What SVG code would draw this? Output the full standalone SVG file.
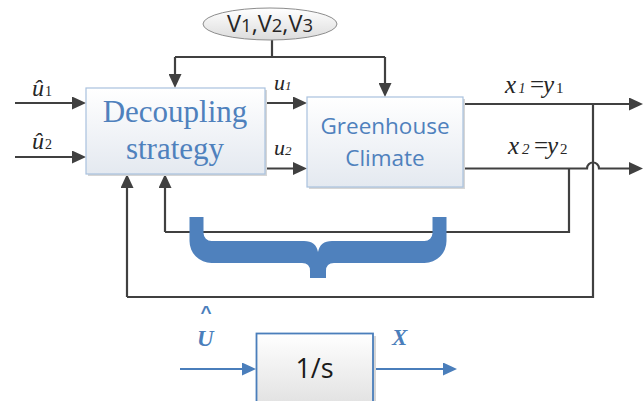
<svg xmlns="http://www.w3.org/2000/svg" width="643" height="401" viewBox="0 0 643 401">
  <defs>
    <linearGradient id="boxFill" x1="0" y1="0" x2="0" y2="1">
      <stop offset="0" stop-color="#ffffff"/>
      <stop offset="1" stop-color="#e4e9f0"/>
    </linearGradient>
    <linearGradient id="ellFill" x1="0" y1="0" x2="0" y2="1">
      <stop offset="0" stop-color="#ffffff"/>
      <stop offset="1" stop-color="#dcdcdc"/>
    </linearGradient>
    <linearGradient id="intFill" x1="0" y1="0" x2="0" y2="1">
      <stop offset="0" stop-color="#ffffff"/>
      <stop offset="1" stop-color="#e2e2e2"/>
    </linearGradient>
    <marker id="arrDark" markerUnits="userSpaceOnUse" markerWidth="14" markerHeight="13" refX="10" refY="6.5" orient="auto">
      <path d="M0,0 L14,6.5 L0,13 z" fill="#404040"/>
    </marker>
    <marker id="arrBlue" markerUnits="userSpaceOnUse" markerWidth="14" markerHeight="13" refX="10" refY="6.5" orient="auto">
      <path d="M0,0 L14,6.5 L0,13 z" fill="#4a7ebb"/>
    </marker>
  </defs>
  <style>
    .wire { fill: none; stroke: #404040; stroke-width: 2.2; }
    .wireA { fill: none; stroke: #404040; stroke-width: 2.2; marker-end: url(#arrDark); }
    .blueA { fill: none; stroke: #4a7ebb; stroke-width: 2; marker-end: url(#arrBlue); }
    .box { fill: url(#boxFill); stroke: #a9c1de; stroke-width: 1.2; }
    .shadow { fill: #d6d6d6; }
    .serifBlue { font-family: "Liberation Serif", "Times New Roman", serif; fill: #4f81bd; }
    .sansBlue { font-family: "Open Sans", "Liberation Sans", sans-serif; fill: #4f81bd; }
    .math { font-family: "Liberation Serif", "Times New Roman", serif; fill: #262626; }
    .it { font-style: italic; }
    .bmath { font-family: "Liberation Serif", "Times New Roman", serif; font-style: italic; font-weight: bold; fill: #4a7ebb; }
  </style>

  <!-- connectors -->
  <g id="connectors">
    <!-- disturbance feed -->
    <path class="wire" d="M272,40 V57 M175,57 H385"/>
    <path class="wireA" d="M175,57 V84"/>
    <path class="wireA" d="M385,57 V93"/>
    <!-- reference inputs -->
    <path class="wireA" d="M15,103 H82"/>
    <path class="wireA" d="M15,157 H82"/>
    <!-- control signals -->
    <path class="wireA" d="M265,103 H303"/>
    <path class="wireA" d="M265,168.5 H303"/>
    <!-- plant outputs -->
    <path class="wireA" d="M463,104 H639"/>
    <path class="wireA" d="M463,168.5 H587 A6,6 0 0 1 599,168.5 H639"/>
    <!-- feedback paths -->
    <path class="wire" d="M593,104 V297 H127"/>
    <path class="wireA" d="M127,297 V178"/>
    <path class="wire" d="M569,168.5 V232 H165"/>
    <path class="wireA" d="M165,232 V178"/>
    <!-- integrator signals -->
    <path class="blueA" d="M180,369 H252"/>
    <path class="blueA" d="M373,369 H453"/>
  </g>

  <!-- curly brace grouping the feedback -->
  <g id="brace">
    <path fill="#4f81bd" d="M189.5,217 H203.5 V233 A8,8 0 0 0 211.5,241 H304 Q316,241 318,252 Q320,241 332,241 H424.5 A8,8 0 0 0 432.5,233 V217 H446.5 V241 A22,22 0 0 1 424.5,263 H334 Q326,263 326,271 V278 H310 V271 Q310,263 302,263 H211.5 A22,22 0 0 1 189.5,241 Z"/>
  </g>

  <!-- disturbance ellipse -->
  <g id="disturbance">
    <ellipse cx="270" cy="24" rx="67" ry="16" fill="url(#ellFill)" stroke="#8c8c8c" stroke-width="1"/>
    <text x="270" y="32" text-anchor="middle" font-family="'Open Sans', 'Liberation Sans', sans-serif" font-size="23.5" fill="#262626">V<tspan font-size="18.5">1</tspan>,V<tspan font-size="18.5">2</tspan>,V<tspan font-size="18.5">3</tspan></text>
  </g>

  <!-- decoupling block -->
  <g id="decoupling">
    <rect class="shadow" x="88" y="90" width="179" height="86"/>
    <rect class="box" x="86" y="88" width="179" height="86"/>
    <text class="serifBlue" x="175" y="122" font-size="31" text-anchor="middle">Decoupling</text>
    <text class="serifBlue" x="175" y="159" font-size="31" text-anchor="middle">strategy</text>
  </g>

  <!-- greenhouse climate block -->
  <g id="greenhouse">
    <rect class="shadow" x="309" y="99" width="156" height="90"/>
    <rect class="box" x="307" y="97" width="156" height="90"/>
    <text class="sansBlue" x="385" y="134" font-size="22.5" text-anchor="middle">Greenhouse</text>
    <text class="sansBlue" x="385" y="166" font-size="22.5" text-anchor="middle">Climate</text>
  </g>

  <!-- integrator block -->
  <g id="integrator">
    <rect class="shadow" x="259" y="336" width="117" height="70"/>
    <rect x="256.5" y="333.5" width="116.5" height="70" fill="url(#intFill)" stroke="#4a7ebb" stroke-width="1.8"/>
    <text x="314.5" y="378" font-family="'Open Sans', 'Liberation Sans', sans-serif" font-size="27" fill="#1a1a1a" text-anchor="middle">1/s</text>
  </g>

  <!-- signal labels -->
  <g id="labels">
    <text class="math" y="96" font-size="24"><tspan class="it" x="32">û</tspan><tspan x="45" font-size="14">1</tspan></text>
    <text class="math" y="149" font-size="24"><tspan class="it" x="32">û</tspan><tspan x="45" font-size="14">2</tspan></text>
    <text class="math it" x="274" y="90" font-size="22">u<tspan font-size="13">1</tspan></text>
    <text class="math it" x="274" y="155" font-size="22">u<tspan font-size="13">2</tspan></text>
    <text class="math" y="93" font-size="25"><tspan class="it" x="505">x</tspan><tspan class="it" x="518.5" font-size="14">1</tspan><tspan x="530">=</tspan><tspan class="it" x="543">y</tspan><tspan x="556" font-size="15">1</tspan></text>
    <text class="math" y="154" font-size="25"><tspan class="it" x="508">x</tspan><tspan class="it" x="522" font-size="15">2</tspan><tspan x="534">=</tspan><tspan class="it" x="547">y</tspan><tspan x="560" font-size="15">2</tspan></text>
    <text x="200.5" y="319" font-family="'Liberation Sans', Arial, sans-serif" font-weight="bold" font-size="19" fill="#4a7ebb">^</text>
    <text class="bmath" x="197" y="346" font-size="23">U</text>
    <text class="bmath" x="392" y="345" font-size="23">X</text>
  </g>
</svg>
